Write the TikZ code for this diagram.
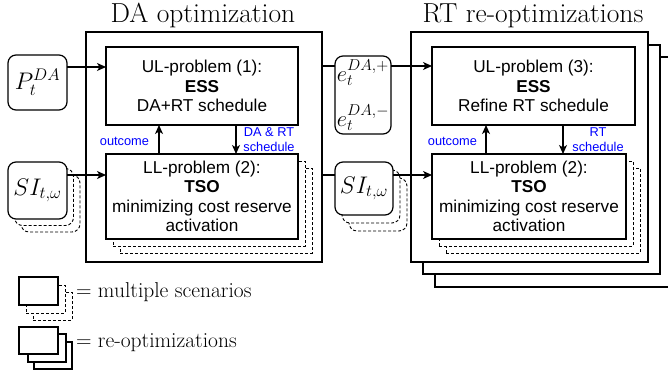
\RequirePackage{fix-cm}
\documentclass[tikz,border=0pt]{standalone}
\usepackage{fontspec}
\newfontfamily\boxfont{Liberation Sans}
\usetikzlibrary{arrows.meta}
\begin{document}
\begin{tikzpicture}[x=1pt,y=-1pt,
  every node/.style={inner sep=0pt, outer sep=0pt},
  frame/.style={draw, line width=1.2pt, fill=white},
  prob/.style={draw, line width=1.2pt, fill=white, align=center, font=\boxfont\fontsize{17.2}{19.5}\selectfont},
  inbox/.style={draw, line width=1.2pt, fill=white, rounded corners=8pt, font=\fontsize{24}{28}\selectfont},
  shadow/.style={draw, line width=0.9pt, dash pattern=on 3pt off 2pt, fill=white},
  rshadow/.style={shadow, rounded corners=8pt},
  arr/.style={line width=1.2pt, -{Stealth[length=9pt,width=8pt,inset=2.5pt]}},
  conn/.style={line width=1.2pt},
  lbl/.style={text=blue, align=center, font=\boxfont\fontsize{12.8}{15.5}\selectfont},
  title/.style={font=\fontsize{27.5}{32}\selectfont, anchor=base},
  legend/.style={font=\fontsize{21.5}{25}\selectfont, anchor=base west},
  legbox/.style={draw, line width=1.1pt, fill=white, minimum width=39, minimum height=28}
]
\fill[white] (0,0) rectangle (668,379);
\useasboundingbox (0,0) rectangle (668,379);

% ---------- DA optimization ----------
\node[frame, minimum width=236, minimum height=230] (DA) at (204,147) {};
\node[title] (DAt) at (203,23) {DA optimization};

\node[prob, minimum width=192, minimum height=78] (UL1) at (202,86) {UL-problem (1):\\\textbf{ESS}\\DA+RT schedule};
\node[shadow, minimum width=192, minimum height=85] (LL1s2) at (216,210.5) {};
\node[shadow, minimum width=192, minimum height=85] (LL1s1) at (209,203.5) {};
\node[prob, minimum width=192, minimum height=85] (LL1) at (202,196.5) {LL-problem (2):\\\textbf{TSO}\\minimizing cost reserve\\activation};

\node[inbox, minimum width=59, minimum height=55] (P) at (37.5,82.5) {$P_t^{DA}$};
\node[rshadow, minimum width=59, minimum height=57] (SIs2) at (50.5,203.5) {};
\node[rshadow, minimum width=59, minimum height=57] (SIs1) at (44,197) {};
\node[inbox, minimum width=59, minimum height=57] (SI) at (37.5,190.5) {$SI_{t,\omega}$};

\draw[arr] (P.east |- 0,67) -- (UL1.west |- 0,67);
\draw[arr] (SI.east |- 0,175) -- (LL1.west |- 0,175);
\draw[arr] (LL1.north -| 159,0) -- (UL1.south -| 159,0);
\draw[arr] (UL1.south -| 236,0) -- (LL1.north -| 236,0);
\node[lbl, anchor=east] (oc1) at (149,141) {outcome};
\node[lbl] (sch1) at (269,139.5) {DA \& RT\\schedule};

% ---------- RT re-optimizations ----------
\node[frame, minimum width=237, minimum height=230] (RT3) at (553.5,172) {};
\node[frame, minimum width=237, minimum height=229] (RT2) at (541.5,159.5) {};
\node[frame, minimum width=237, minimum height=230] (RT) at (529.5,147) {};
\node[title] (RTt) at (533,23) {RT re-optimizations};

\node[prob, minimum width=203, minimum height=78] (UL3) at (533.5,86) {UL-problem (3):\\\textbf{ESS}\\Refine RT schedule};
\node[shadow, minimum width=194, minimum height=85] (LL3s2) at (543,210.5) {};
\node[shadow, minimum width=194, minimum height=85] (LL3s1) at (536,203.5) {};
\node[prob, minimum width=194, minimum height=85] (LL3) at (529,196.5) {LL-problem (2):\\\textbf{TSO}\\minimizing cost reserve\\activation};

\node[inbox, minimum width=56, minimum height=78, align=left, font=\fontsize{22.5}{26}\selectfont] (e) at (363,95) {$e_t^{DA,+}$\\[19pt]$e_t^{DA,-}$};
\node[rshadow, minimum width=58, minimum height=53] (SI2s2) at (378,204.5) {};
\node[rshadow, minimum width=58, minimum height=53] (SI2s1) at (371,196.5) {};
\node[inbox, minimum width=58, minimum height=53] (SI2) at (364,188.5) {$SI_{t,\omega}$};

\draw[conn] (DA.east |- 0,66) -- (e.west |- 0,66);
\draw[conn] (DA.east |- 0,175) -- (SI2.west |- 0,175);
\draw[arr] (e.east |- 0,66) -- (UL3.west |- 0,66);
\draw[arr] (SI2.east |- 0,175) -- (LL3.west |- 0,175);
\draw[arr] (LL3.north -| 486,0) -- (UL3.south -| 486,0);
\draw[arr] (UL3.south -| 563,0) -- (LL3.north -| 563,0);
\node[lbl, anchor=east] (oc3) at (477,141) {outcome};
\node[lbl] (sch3) at (598,139.5) {RT\\schedule};

% ---------- legend ----------
\node[shadow, minimum width=39, minimum height=28] (Ms2) at (52.5,306) {};
\node[shadow, minimum width=39, minimum height=28] (Ms1) at (45.5,299) {};
\node[legbox] (M) at (38.5,291) {};
\node[legend] (L1) at (76,297) {$=$ multiple scenarios};

\node[legbox, minimum width=38, minimum height=27] (R3) at (53,355.5) {};
\node[legbox, minimum width=38, minimum height=28] (R2) at (47,348) {};
\node[legbox, minimum width=39, minimum height=27] (R1) at (38.5,340.5) {};
\node[legend] (L2) at (76,347) {$=$ re-optimizations};
\end{tikzpicture}
\end{document}
